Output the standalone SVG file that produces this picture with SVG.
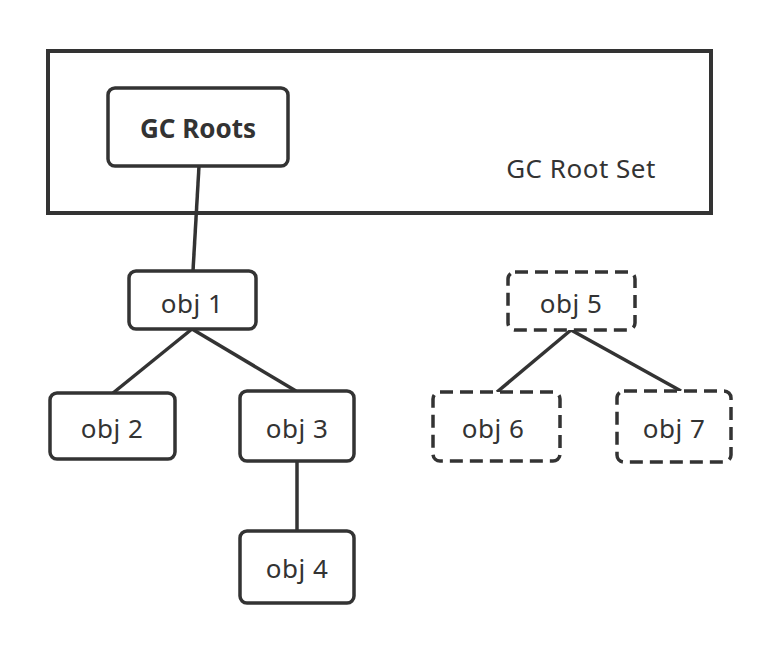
<svg xmlns="http://www.w3.org/2000/svg" width="780" height="652" viewBox="0 0 780 652">
<style>
.box{fill:#fff;stroke:#333;stroke-width:3.5}
.dash{fill:#fff;stroke:#333;stroke-width:3.5;stroke-dasharray:13 7}
.lbl{font-family:"Noto Sans","Liberation Sans",sans-serif;font-size:26px;letter-spacing:0.5px;fill:#333;text-anchor:middle}
.conn line{stroke:#333;stroke-width:3.5}
</style>
<rect width="780" height="652" fill="#fff"/>
<g id="gc-root-set">
<rect x="48" y="51" width="663" height="162" fill="#fff" stroke="#333" stroke-width="4"/>
<text class="lbl" x="581" y="178">GC Root Set</text>
</g>
<g class="conn" id="connectors">
<line x1="199" y1="166" x2="193" y2="271"/>
<line x1="192" y1="329" x2="113" y2="393"/>
<line x1="192" y1="329" x2="296" y2="391"/>
<line x1="297" y1="461" x2="297" y2="531"/>
<line x1="571" y1="330" x2="497" y2="392"/>
<line x1="571" y1="330" x2="681" y2="391"/>
</g>
<g id="gc-roots">
<rect class="box" x="108" y="88" width="180" height="78" rx="7"/>
<text class="lbl" x="198" y="138" style="font-weight:bold;letter-spacing:0px">GC Roots</text>
</g>
<g id="obj1">
<rect class="box" x="129" y="271" width="127" height="58" rx="7"/>
<text class="lbl" x="192" y="313">obj 1</text>
</g>
<g id="obj2">
<rect class="box" x="50" y="393" width="125" height="66" rx="7"/>
<text class="lbl" x="112" y="438">obj 2</text>
</g>
<g id="obj3">
<rect class="box" x="240" y="391" width="114" height="70" rx="7"/>
<text class="lbl" x="297" y="438">obj 3</text>
</g>
<g id="obj4">
<rect class="box" x="240" y="531" width="114" height="72" rx="7"/>
<text class="lbl" x="297" y="578">obj 4</text>
</g>
<g id="obj5">
<rect class="dash" x="508" y="272" width="127" height="58" rx="7"/>
<text class="lbl" x="571" y="313">obj 5</text>
</g>
<g id="obj6">
<rect class="dash" x="433" y="392" width="127" height="69" rx="7"/>
<text class="lbl" x="493" y="438">obj 6</text>
</g>
<g id="obj7">
<rect class="dash" x="617" y="391" width="114" height="71" rx="7"/>
<text class="lbl" x="674" y="438">obj 7</text>
</g>
</svg>
